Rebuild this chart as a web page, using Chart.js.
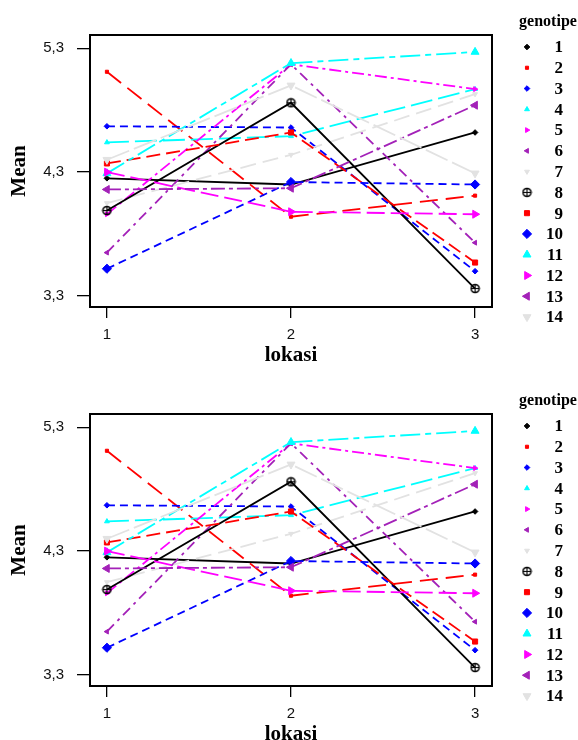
<!DOCTYPE html>
<html lang="id">
<head>
<meta charset="UTF-8" />
<title>Interaksi genotipe x lokasi</title>
<script src="https://cdn.jsdelivr.net/npm/chart.js"></script>
<style>
  html, body { margin: 0; padding: 0; background: #fff; }
  .plot { position: absolute; left: 0; width: 578px; height: 370px; }
  #top { top: 0; }
  #bottom { top: 379px; }
</style>
</head>
<body>
<div class="plot" id="top"><canvas id="chart1" width="578" height="370"></canvas></div>
<div class="plot" id="bottom"><canvas id="chart2" width="578" height="370"></canvas></div>

<script>
// mean per genotipe at lokasi 1, 2, 3
const lokasi = [1, 2, 3];
const genotipe = ['1', '2', '3', '4', '5', '6', '7', '8', '9', '10', '11', '12', '13', '14'];
const g1  = [4.25, 4.20, 4.62];
const g2  = [5.11, 3.94, 4.11];
const g3  = [4.67, 4.66, 3.50];
const g4  = [4.54, 4.59, 4.97];
const g5  = [3.96, 5.17, 4.97];
const g6  = [3.65, 5.17, 3.73];
const g7  = [4.05, 4.44, 4.93];
const g8  = [3.99, 4.86, 3.36];
const g9  = [4.37, 4.62, 3.57];
const g10 = [3.52, 4.22, 4.20];
const g11 = [4.29, 5.18, 5.27];
const g12 = [4.30, 3.98, 3.96];
const g13 = [4.16, 4.17, 4.84];
const g14 = [4.40, 5.00, 4.29];
const means = [g1, g2, g3, g4, g5, g6, g7, g8, g9, g10, g11, g12, g13, g14];
const yTicks = [3.3, 4.3, 5.3];

// styles
const palette = ['#000000', '#ff0000', '#0000ff', '#00ffff', '#ff00ff', '#a321b8', '#e2e2e2'];
const dashes = [[], [18, 8], [8, 5], [22, 6], [12, 4, 3, 4], [10, 5, 3, 5], [16, 7],
                [], [14, 6], [8, 5], [20, 5, 6, 5], [18, 6], [14, 4, 4, 4], [24, 5]];

function circlePlus() {
  const c = document.createElement('canvas');
  c.width = 11; c.height = 11;
  const x = c.getContext('2d');
  x.strokeStyle = '#000'; x.lineWidth = 1.6;
  x.beginPath(); x.arc(5.5, 5.5, 4, 0, Math.PI * 2); x.stroke();
  x.lineWidth = 1.2;
  x.beginPath(); x.moveTo(5.5, 2); x.lineTo(5.5, 9); x.moveTo(2, 5.5); x.lineTo(9, 5.5); x.stroke();
  return c;
}
const markers = [
  ['rectRot', 0, 2.8], ['rect', 0, 2.2], ['rectRot', 0, 2.8], ['triangle', 0, 2.8],
  ['triangle', 90, 2.8], ['triangle', -90, 2.8], ['triangle', 180, 2.8],
  [circlePlus(), 0, 5], ['rect', 0, 3.6], ['rectRot', 0, 4.6], ['triangle', 0, 4.6],
  ['triangle', 90, 4.6], ['triangle', -90, 4.6], ['triangle', 180, 4.6]
];

function buildDatasets() {
  return means.map((vals, i) => {
    const col = palette[i % palette.length];
    return {
      label: genotipe[i],
      data: lokasi.map((x, j) => ({ x: x, y: vals[j] })),
      borderColor: col,
      backgroundColor: col,
      borderWidth: 1.8,
      borderDash: dashes[i],
      pointStyle: markers[i][0],
      pointRotation: markers[i][1],
      pointRadius: markers[i][2],
      pointBorderWidth: 1,
      pointBorderColor: col,
      pointBackgroundColor: col,
      tension: 0,
      order: means.length - 1 - i
    };
  });
}

function drawMarker(ctx, ds, x, y) {
  ctx.save();
  ctx.fillStyle = ds.pointBackgroundColor;
  ctx.strokeStyle = ds.pointBorderColor;
  ctx.lineWidth = 1;
  if (Chart.helpers && Chart.helpers.drawPoint) {
    Chart.helpers.drawPoint(ctx, {
      pointStyle: ds.pointStyle, rotation: ds.pointRotation,
      radius: ds.pointRadius, borderWidth: 1
    }, x, y);
  } else if (ds.pointStyle instanceof HTMLCanvasElement) {
    ctx.drawImage(ds.pointStyle, x - 5.5, y - 5.5);
  } else {
    ctx.beginPath(); ctx.arc(x, y, ds.pointRadius, 0, Math.PI * 2); ctx.fill();
  }
  ctx.restore();
}

const boxPlugin = {
  id: 'box',
  afterDatasetsDraw(chart) {
    const a = chart.chartArea, ctx = chart.ctx;
    ctx.save();
    ctx.strokeStyle = '#000';
    ctx.lineWidth = 2;
    ctx.strokeRect(a.left, a.top, a.right - a.left, a.bottom - a.top);
    ctx.restore();
  }
};

const legendPlugin = {
  id: 'genoLegend',
  afterDraw(chart) {
    const ctx = chart.ctx;
    ctx.save();
    ctx.fillStyle = '#000';
    ctx.textBaseline = 'middle';
    ctx.textAlign = 'center';
    ctx.font = 'bold 16px "Liberation Serif"';
    ctx.fillText('genotipe', 548, 22);
    ctx.font = 'bold 17px "Liberation Serif"';
    ctx.textAlign = 'right';
    chart.data.datasets.forEach((ds, i) => {
      const y = 47 + i * 20.77;
      drawMarker(ctx, ds, 527, y);
      ctx.fillStyle = '#000';
      ctx.fillText(ds.label, 563, y + 1);
    });
    ctx.restore();
  }
};

function makeChart(id) {
  return new Chart(document.getElementById(id), {
    type: 'line',
    data: { datasets: buildDatasets() },
    plugins: [boxPlugin, legendPlugin],
    options: {
      responsive: false,
      animation: false,
      layout: { padding: { left: 0, right: 86, top: 35, bottom: 0 } },
      plugins: { legend: { display: false }, tooltip: { enabled: false } },
      scales: {
        x: {
          type: 'linear',
          min: 0.908, max: 3.092,
          afterBuildTicks: s => { s.ticks = lokasi.map(v => ({ value: v })); },
          afterFit: s => { s.height = 63; },
          border: { display: false },
          grid: { drawOnChartArea: false, drawTicks: true, tickLength: 11, color: '#000', lineWidth: 1.3 },
          ticks: { padding: 8, color: '#111', font: { family: 'Liberation Sans', size: 15 }, callback: v => String(v) },
          title: { display: true, text: 'lokasi', color: '#000', padding: { top: 0, bottom: 2 },
                   font: { family: 'Liberation Serif', size: 21, weight: 'bold' } }
        },
        y: {
          min: 3.211, max: 5.407,
          afterBuildTicks: s => { s.ticks = yTicks.map(v => ({ value: v })); },
          afterFit: s => { s.width = 90; },
          border: { display: false },
          grid: { drawOnChartArea: false, drawTicks: true, tickLength: 13, color: '#000', lineWidth: 1.3 },
          ticks: { padding: 13, color: '#111', font: { family: 'Liberation Sans', size: 15 },
                   callback: v => v.toFixed(1).replace('.', ',') },
          title: { display: true, text: 'Mean', color: '#000', padding: { top: 7, bottom: 0 },
                   font: { family: 'Liberation Serif', size: 21, weight: 'bold' } }
        }
      }
    }
  });
}

makeChart('chart1');
makeChart('chart2');
</script>
</body>
</html>
